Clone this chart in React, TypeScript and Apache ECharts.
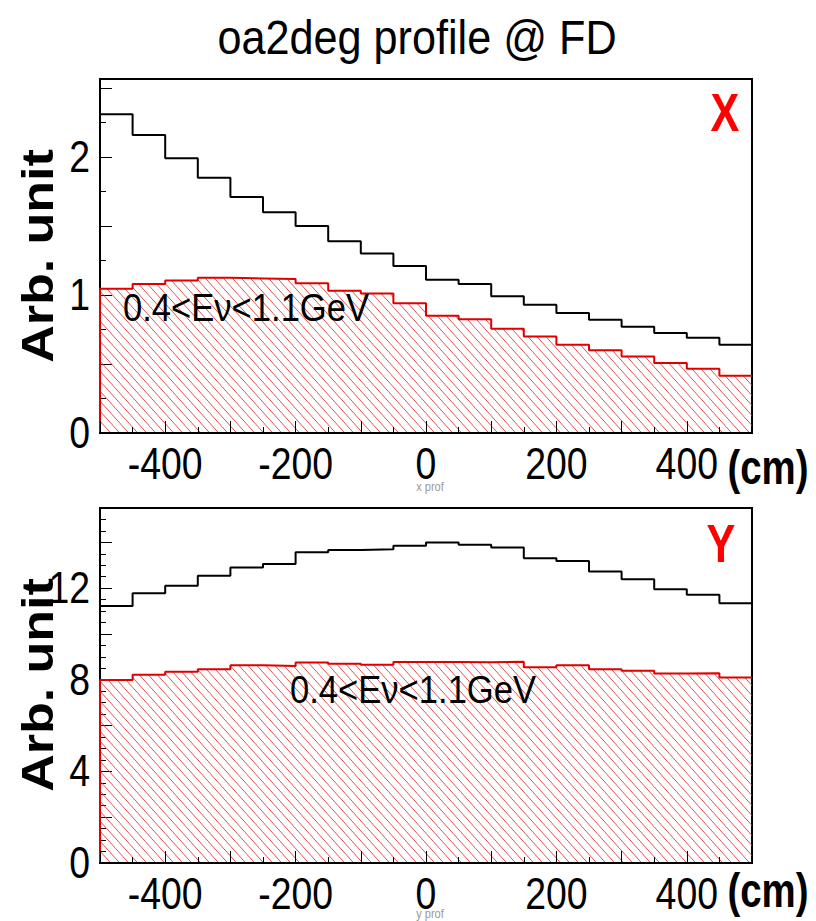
import React, { useEffect, useRef } from "react";
import * as echarts from "echarts";

// Bin left edges (cm), bin width 50
const binLeft = [-500, -450, -400, -350, -300, -250, -200, -150, -100, -50, 0, 50, 100, 150, 200, 250, 300, 350, 400, 450];
const binRightEnd = 500;

// X profile (top panel)
const xProfAll = [2.31, 2.16, 1.99, 1.85, 1.71, 1.6, 1.5, 1.39, 1.3, 1.21, 1.11, 1.08, 0.99, 0.93, 0.87, 0.82, 0.77, 0.725, 0.69, 0.64];
const xProfLowE = [1.045, 1.08, 1.105, 1.125, 1.12, 1.115, 1.085, 1.03, 1.01, 0.94, 0.85, 0.825, 0.755, 0.7, 0.64, 0.6, 0.555, 0.507, 0.466, 0.415];

// Y profile (bottom panel)
const yProfAll = [11.22, 11.78, 12.1, 12.54, 12.9, 13.06, 13.57, 13.67, 13.7, 13.85, 13.99, 13.89, 13.78, 13.31, 13.19, 12.73, 12.39, 11.95, 11.71, 11.34];
const yProfLowE = [7.99, 8.22, 8.35, 8.46, 8.63, 8.6, 8.75, 8.7, 8.66, 8.78, 8.78, 8.76, 8.79, 8.55, 8.63, 8.46, 8.39, 8.27, 8.28, 8.1];

const xTickLabels = [-400, -200, 0, 200, 400];
const topYLabels = [0, 1, 2];
const bottomYLabels = [0, 4, 8, 12];

const TITLE = "oa2deg profile @ FD";
const CUT_LABEL = "0.4<E\u03bd<1.1GeV";
const Y_NAME = "Arb. unit";
const X_UNIT = "(cm)";

const FONT = '"Liberation Sans", Arial, Helvetica, sans-serif';
const SQ = 0.85; // horizontal squash of the original ROOT canvas

function stepData(vals: number[], closeLeft: boolean) {
  const d: number[][] = [];
  if (closeLeft) d.push([binLeft[0], 0]);
  binLeft.forEach((x, i) => d.push([x, vals[i]]));
  d.push([binRightEnd, vals[vals.length - 1]]);
  return d;
}

const TW = 9;
const TH = 10;
const hatchSvg =
  `<svg xmlns='http://www.w3.org/2000/svg' width='${TW}' height='${TH}'>` +
  `<path d='M${-TW},${-TH} L${2 * TW},${2 * TH} M0,${-TH} L${3 * TW},${2 * TH} M${-2 * TW},${-TH} L${TW},${2 * TH}' stroke='#e03c3c' stroke-width='0.9' fill='none'/></svg>`;
const hatchUrl = "data:image/svg+xml;charset=utf-8," + encodeURIComponent(hatchSvg);

export default function App() {
  const ref = useRef<HTMLDivElement>(null);

  useEffect(() => {
    if (!ref.current) return;
    const chart = echarts.init(ref.current, null, { renderer: "svg" });
    const hatch: any = { image: hatchUrl, repeat: "repeat", imageWidth: TW, imageHeight: TH };

    const xAxisCommon = (gridIndex: number) => ({
      type: "value",
      gridIndex,
      min: -500,
      max: 500,
      interval: 100,
      z: 5,
      axisLine: { show: true, onZero: false, lineStyle: { color: "#000", width: 2 } },
      axisTick: { show: true, inside: true, length: 12, lineStyle: { color: "#000", width: 1 } },
      minorTick: { show: true, splitNumber: 2, length: 6, lineStyle: { color: "#000", width: 1 } },
      splitLine: { show: false },
      axisLabel: { show: false },
    });

    const yAxisCommon = (gridIndex: number, max: number, interval: number, minorSplit: number) => ({
      type: "value",
      gridIndex,
      min: 0,
      max,
      interval,
      axisLine: { show: true, onZero: false, lineStyle: { color: "#000", width: 2 } },
      axisTick: { show: true, inside: true, length: 12, lineStyle: { color: "#000", width: 1 } },
      minorTick: { show: true, splitNumber: minorSplit, length: 6, lineStyle: { color: "#000", width: 1 } },
      splitLine: { show: false },
      axisLabel: { show: false },
    });

    const gridCommon = { show: true, borderColor: "#000", borderWidth: 2, backgroundColor: "transparent", outerBoundsMode: "none", containLabel: false };

    const option: any = {
      animation: false,
      backgroundColor: "#fff",
      grid: [
        { ...gridCommon, left: 100, top: 79, width: 652, height: 354 },
        { ...gridCommon, left: 100, top: 508, width: 652, height: 355 },
      ],
      xAxis: [xAxisCommon(0), xAxisCommon(1)],
      yAxis: [yAxisCommon(0, 2.565, 0.5, 2), yAxisCommon(1, 15.5, 2, 4)],
      series: [
        {
          type: "line", xAxisIndex: 0, yAxisIndex: 0, step: "end", showSymbol: false,
          data: stepData(xProfLowE, true),
          lineStyle: { color: "#e00000", width: 2 },
          areaStyle: { color: hatch, opacity: 1 },
          z: 2,
        },
        {
          type: "line", xAxisIndex: 0, yAxisIndex: 0, step: "end", showSymbol: false,
          data: stepData(xProfAll, false),
          lineStyle: { color: "#000", width: 2 },
          z: 3,
        },
        {
          type: "line", xAxisIndex: 1, yAxisIndex: 1, step: "end", showSymbol: false,
          data: stepData(yProfLowE, true),
          lineStyle: { color: "#e00000", width: 2 },
          areaStyle: { color: hatch, opacity: 1 },
          z: 2,
        },
        {
          type: "line", xAxisIndex: 1, yAxisIndex: 1, step: "end", showSymbol: false,
          data: stepData(yProfAll, false),
          lineStyle: { color: "#000", width: 2 },
          z: 3,
        },
      ],
    };
    chart.setOption(option);

    const txt = (text: string, x: number, y: number, font: string, fill: string, align: string, extra: any = {}) => ({
      type: "text", x, y, z: 10, scaleX: SQ, ...extra,
      style: { text, font, fill, textAlign: align, textVerticalAlign: "middle" },
    });

    const graphics: any[] = [
      txt(TITLE, 417, 38, `48px ${FONT}`, "#000", "center", { scaleX: 0.9 }),
      txt(CUT_LABEL, 123, 308, `38px ${FONT}`, "#000", "left", { scaleX: 0.91 }),
      txt(CUT_LABEL, 290, 690, `38px ${FONT}`, "#000", "left", { scaleX: 0.91 }),
      txt("X", 725, 112, `bold 54px ${FONT}`, "#ff0000", "center", { scaleX: 0.8 }),
      txt("Y", 721, 543, `bold 54px ${FONT}`, "#ff0000", "center", { scaleX: 0.8 }),
      txt(X_UNIT, 768, 467, `bold 48px ${FONT}`, "#000", "center", { scaleX: 0.8 }),
      txt(X_UNIT, 768, 890, `bold 48px ${FONT}`, "#000", "center", { scaleX: 0.8 }),
      txt("x prof", 430, 487, `13px ${FONT}`, "#999", "center"),
      txt("y prof", 430, 914, `13px ${FONT}`, "#999", "center"),
    ];

    const yLabelSets = [topYLabels, bottomYLabels];
    const gridCenters = [256, 685];
    [0, 1].forEach((gi) => {
      const axisY = chart.convertToPixel({ yAxisIndex: gi }, 0) as number;
      const axisX = chart.convertToPixel({ xAxisIndex: gi }, -500) as number;
      xTickLabels.forEach((v) => {
        const px = chart.convertToPixel({ xAxisIndex: gi }, v) as number;
        graphics.push(txt(String(v), px, axisY + 31, `44px ${FONT}`, "#000", "center"));
      });
      yLabelSets[gi].forEach((v) => {
        const py = chart.convertToPixel({ yAxisIndex: gi }, v) as number;
        graphics.push(txt(String(v), axisX - 10, py, `44px ${FONT}`, "#000", "right"));
      });
      graphics.push({
        type: "text", x: 37, y: gridCenters[gi], z: 10,
        rotation: Math.PI / 2, scaleX: 1, scaleY: 0.87,
        style: { text: Y_NAME, font: `bold 52px ${FONT}`, fill: "#000", textAlign: "center", textVerticalAlign: "middle" },
      });
    });

    chart.setOption({ graphic: graphics });
    return () => chart.dispose();
  }, []);

  return (
    <div
      ref={ref}
      style={{ position: "absolute", left: 0, top: 0, width: 816, height: 921, background: "#fff" }}
    />
  );
}
